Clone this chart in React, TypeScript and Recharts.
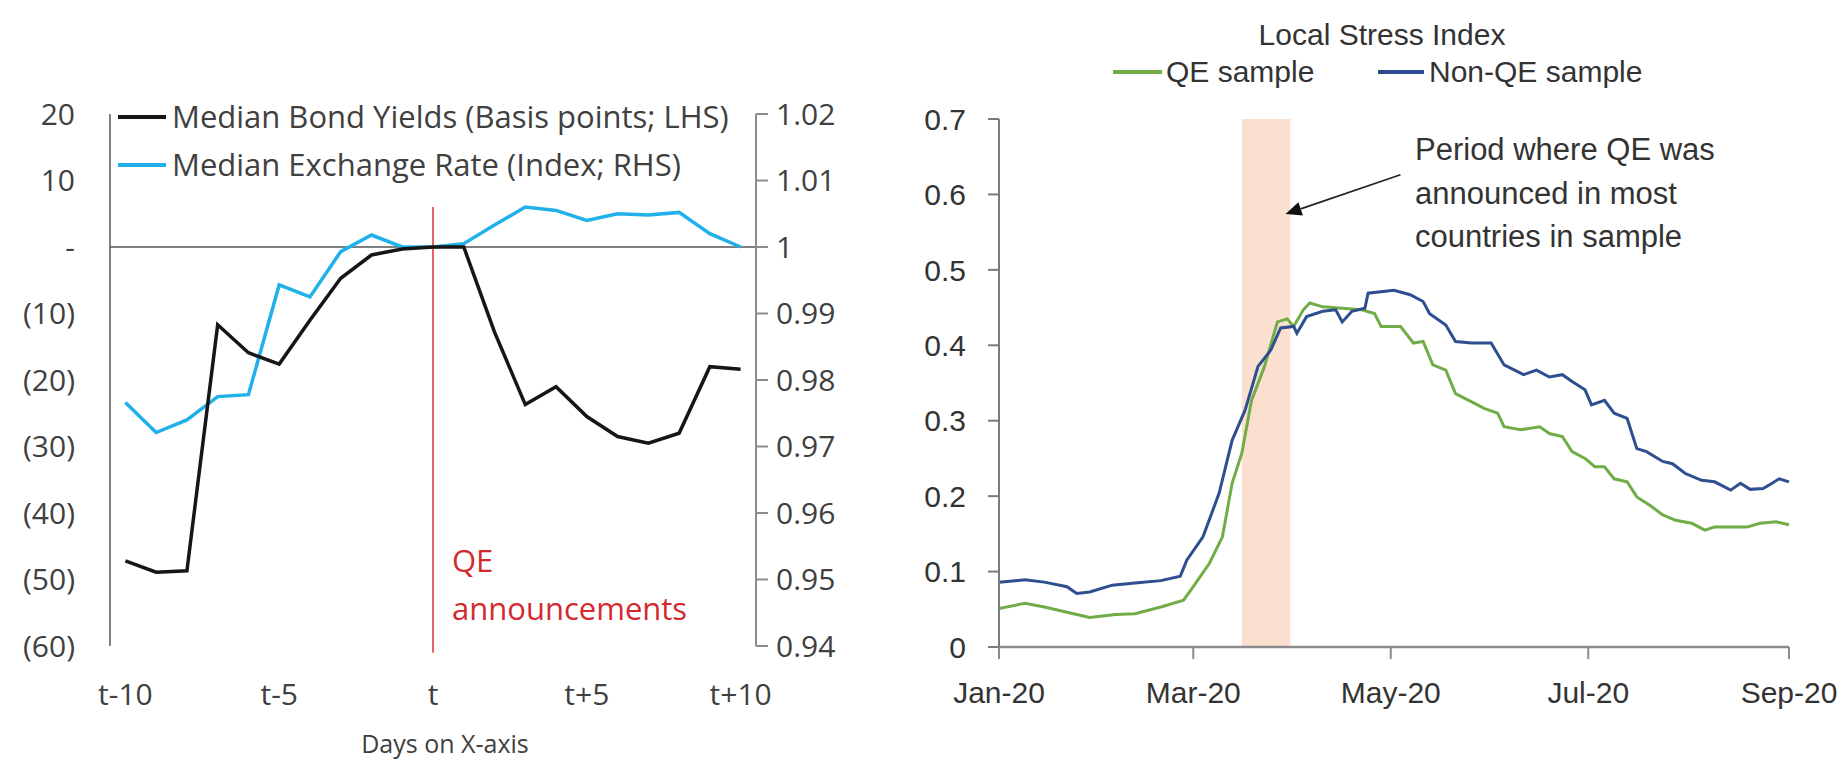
import React from "react";
import {
  LineChart,
  Line,
  XAxis,
  YAxis,
  ReferenceLine,
  ReferenceArea,
} from "recharts";

// ---- left panel: days around QE announcements ----
const eventDays = [-10, -9, -8, -7, -6, -5, -4, -3, -2, -1, 0, 1, 2, 3, 4, 5, 6, 7, 8, 9, 10];
const eventTicks = [-10, -5, 0, 5, 10];
const eventTickLabels = ["t-10", "t-5", "t", "t+5", "t+10"];
const bondYields = [
  -47.2, -48.9, -48.7, -11.7, -15.9, -17.6, -11.0, -4.7, -1.2, -0.3, 0,
  0, -12.8, -23.7, -21.0, -25.5, -28.5, -29.5, -28.0, -18.0, -18.4,
];
const exchangeRate = [
  0.9766, 0.9721, 0.974, 0.9775, 0.9778, 0.9943, 0.9925, 0.9993, 1.0018, 1.0, 1.0,
  1.0005, 1.0033, 1.006, 1.0055, 1.004, 1.005, 1.0048, 1.0052, 1.002, 1.0,
];
const yieldTicks = [-60, -50, -40, -30, -20, -10, 0, 10, 20];
const fxTicks = [0.94, 0.95, 0.96, 0.97, 0.98, 0.99, 1, 1.01, 1.02];

// ---- right panel: local stress index (days since 1 Jan 2020) ----
const stressTicks = [0, 0.1, 0.2, 0.3, 0.4, 0.5, 0.6, 0.7];
const monthTicks = [0, 60, 121, 182, 244];
const monthLabels = ["Jan-20", "Mar-20", "May-20", "Jul-20", "Sep-20"];
const qePeriod = [75, 90];

const qeDays = [
  0, 8, 14, 21, 28, 36, 42, 50, 57, 60, 65, 69, 72, 75, 78, 82, 86, 89, 91, 94,
  96, 100, 106, 112, 116, 118, 124, 128, 131, 134, 138, 141, 146, 150, 154, 156,
  161, 167, 170, 174, 177, 181, 184, 187, 190, 194, 197, 201, 205, 209, 214, 218,
  221, 227, 231, 235, 240, 244,
];
const qeSample = [
  0.051, 0.058, 0.053, 0.046, 0.039, 0.043, 0.044, 0.053, 0.062, 0.08, 0.111,
  0.146, 0.217, 0.257, 0.327, 0.372, 0.431, 0.435, 0.425, 0.447, 0.456, 0.451,
  0.449, 0.447, 0.442, 0.425, 0.425, 0.403, 0.405, 0.374, 0.367, 0.336, 0.325,
  0.316, 0.31, 0.292, 0.288, 0.292, 0.283, 0.279, 0.259, 0.25, 0.239, 0.239,
  0.223, 0.219, 0.199, 0.188, 0.175, 0.168, 0.164, 0.155, 0.159, 0.159, 0.159,
  0.164, 0.166, 0.162,
];
const nonQeDays = [
  0, 8, 14, 21, 24, 28, 35, 42, 50, 56, 58, 63, 68, 72, 76, 80, 84, 87, 91, 92,
  95, 100, 104, 106, 109, 113, 114, 122, 127, 131, 133, 138, 141, 146, 152, 156,
  162, 166, 170, 174, 177, 181, 183, 187, 190, 194, 197, 200, 205, 208, 212, 217,
  221, 226, 229, 232, 236, 238, 241, 244,
];
const nonQeSample = [
  0.086, 0.089, 0.086, 0.08, 0.071, 0.073, 0.082, 0.085, 0.088, 0.094, 0.115,
  0.146, 0.204, 0.274, 0.314, 0.372, 0.394, 0.423, 0.425, 0.416, 0.438, 0.445,
  0.447, 0.431, 0.445, 0.449, 0.469, 0.473, 0.467, 0.458, 0.442, 0.427, 0.405,
  0.403, 0.403, 0.374, 0.361, 0.367, 0.358, 0.361, 0.352, 0.341, 0.321, 0.327,
  0.31, 0.303, 0.263, 0.259, 0.246, 0.243, 0.23, 0.221, 0.219, 0.208, 0.217,
  0.209, 0.21, 0.215, 0.223, 0.219,
];

const leftFont = "'Open Sans', sans-serif";
const rightFont = "'Liberation Sans', Arial, sans-serif";

const eventData = eventDays.map((day, i) => ({
  day,
  yields: bondYields[i],
  fx: exchangeRate[i],
}));

// merge both stress series on a common day axis
const stressData = Array.from(new Set([...qeDays, ...nonQeDays]))
  .sort((a, b) => a - b)
  .map((day) => {
    const qi = qeDays.indexOf(day);
    const ni = nonQeDays.indexOf(day);
    return {
      day,
      qe: qi === -1 ? null : qeSample[qi],
      nonQe: ni === -1 ? null : nonQeSample[ni],
    };
  });

const formatYield = (v: number) => (v === 0 ? "-" : v < 0 ? `(${-v})` : `${v}`);

function ArrowShape(props: any) {
  const { x1, y1, x2, y2 } = props;
  const ang = Math.atan2(y2 - y1, x2 - x1);
  const len = 16;
  const half = 7;
  const bx = x2 - len * Math.cos(ang);
  const by = y2 - len * Math.sin(ang);
  const pts = [
    `${x2},${y2}`,
    `${bx + half * Math.sin(ang)},${by - half * Math.cos(ang)}`,
    `${bx - half * Math.sin(ang)},${by + half * Math.cos(ang)}`,
  ].join(" ");
  return (
    <g>
      <line x1={x1} y1={y1} x2={bx} y2={by} stroke="#222" strokeWidth={1.6} />
      <polygon points={pts} fill="#111" />
    </g>
  );
}

const abs = (left: number, top: number, extra: React.CSSProperties = {}): React.CSSProperties => ({
  position: "absolute",
  left,
  top,
  whiteSpace: "nowrap",
  ...extra,
});

export default function App() {
  const leftTick = { fontSize: 30, fill: "#404040", fontFamily: leftFont };
  const rightTick = { fontSize: 30, fill: "#333333", fontFamily: rightFont };

  return (
    <div style={{ position: "relative", width: 1844, height: 764, background: "#fff", overflow: "hidden" }}>
      <style>{"body{margin:0}"}</style>

      {/* left panel */}
      <div style={abs(0, 0)}>
        <LineChart
          width={900}
          height={764}
          data={eventData}
          margin={{ top: 114, right: 0, bottom: 58, left: 0 }}
          style={{ fontFamily: leftFont }}
        >
          <XAxis
            dataKey="day"
            type="number"
            domain={[-10.5, 10.5]}
            ticks={eventTicks}
            tickFormatter={(v: number) => eventTickLabels[eventTicks.indexOf(v)]}
            axisLine={false}
            tickLine={false}
            tickSize={0}
            tickMargin={38}
            height={60}
            tick={leftTick}
          />
          <YAxis
            yAxisId="left"
            domain={[-60, 20]}
            ticks={yieldTicks}
            tickFormatter={formatYield}
            width={110}
            tickLine={false}
            tickSize={0}
            tickMargin={35}
            axisLine={{ stroke: "#595959", strokeWidth: 1.5 }}
            tick={leftTick}
          />
          <YAxis
            yAxisId="right"
            orientation="right"
            domain={[0.94, 1.02]}
            ticks={fxTicks}
            tickFormatter={(v: number) => String(v)}
            width={144}
            tickSize={12}
            tickMargin={8}
            axisLine={{ stroke: "#8c8c8c", strokeWidth: 2 }}
            tickLine={{ stroke: "#8c8c8c", strokeWidth: 2 }}
            tick={leftTick}
          />
          <ReferenceLine yAxisId="left" y={0} stroke="#7f7f7f" strokeWidth={2} />
          <ReferenceLine
            yAxisId="left"
            segment={[{ x: 0, y: 6 }, { x: 0, y: -61 }]}
            stroke="#e0303a"
            strokeWidth={1.5}
            ifOverflow="visible"
          />
          <Line
            yAxisId="right"
            dataKey="fx"
            stroke="#21b1ea"
            strokeWidth={3.5}
            dot={false}
            type="linear"
            isAnimationActive={false}
          />
          <Line
            yAxisId="left"
            dataKey="yields"
            stroke="#161616"
            strokeWidth={3.5}
            dot={false}
            type="linear"
            isAnimationActive={false}
          />
        </LineChart>
      </div>

      {/* left legend and notes */}
      <div style={abs(118, 115, { width: 48, height: 4, background: "#161616" })} />
      <div style={abs(118, 163, { width: 48, height: 4, background: "#21b1ea" })} />
      <div style={abs(172, 95, { fontFamily: leftFont, fontSize: 31, lineHeight: "42px", color: "#404040" })}>
        Median Bond Yields (Basis points; LHS)
      </div>
      <div style={abs(172, 143, { fontFamily: leftFont, fontSize: 31, lineHeight: "42px", color: "#404040" })}>
        Median Exchange Rate (Index; RHS)
      </div>
      <div style={abs(452, 536, { fontFamily: leftFont, fontSize: 31, lineHeight: "48px", color: "#d42a2f" })}>
        QE
        <br />
        announcements
      </div>
      <div
        style={abs(295, 726, {
          width: 300,
          textAlign: "center",
          fontFamily: leftFont,
          fontSize: 25,
          lineHeight: "34px",
          color: "#404040",
        })}
      >
        Days on X-axis
      </div>

      {/* right panel */}
      <div style={abs(860, 0)}>
        <LineChart
          width={984}
          height={764}
          data={stressData}
          margin={{ top: 119, right: 55, bottom: 57, left: 0 }}
          style={{ fontFamily: rightFont }}
        >
          <XAxis
            dataKey="day"
            type="number"
            domain={[0, 244]}
            ticks={monthTicks}
            tickFormatter={(v: number) => monthLabels[monthTicks.indexOf(v)]}
            height={60}
            tickSize={12}
            tickMargin={23}
            axisLine={{ stroke: "#8c8c8c", strokeWidth: 2.5 }}
            tickLine={{ stroke: "#8c8c8c", strokeWidth: 2 }}
            tick={rightTick}
          />
          <YAxis
            domain={[0, 0.7]}
            ticks={stressTicks}
            width={139}
            tickSize={11}
            tickMargin={22}
            axisLine={{ stroke: "#7a7a7a", strokeWidth: 2 }}
            tickLine={{ stroke: "#7a7a7a", strokeWidth: 2 }}
            tick={rightTick}
          />
          <ReferenceArea
            x1={qePeriod[0]}
            x2={qePeriod[1]}
            y1={0}
            y2={0.7}
            fill="#fbe0d0"
            fillOpacity={1}
            stroke="none"
          />
          <Line
            dataKey="qe"
            stroke="#70ad47"
            strokeWidth={3}
            dot={false}
            connectNulls
            type="linear"
            isAnimationActive={false}
          />
          <Line
            dataKey="nonQe"
            stroke="#2e4f8f"
            strokeWidth={3}
            dot={false}
            connectNulls
            type="linear"
            isAnimationActive={false}
          />
          <ReferenceLine
            segment={[{ x: 124, y: 0.626 }, { x: 88.5, y: 0.574 }]}
            shape={ArrowShape}
            ifOverflow="visible"
          />
        </LineChart>
      </div>

      {/* right title, legend and annotation */}
      <div
        style={abs(1182, 14, {
          width: 400,
          textAlign: "center",
          fontFamily: rightFont,
          fontSize: 30,
          lineHeight: "42px",
          color: "#333",
        })}
      >
        Local Stress Index
      </div>
      <div style={abs(1113, 70, { width: 49, height: 4, background: "#70ad47" })} />
      <div style={abs(1166, 51, { fontFamily: rightFont, fontSize: 30, lineHeight: "42px", color: "#333" })}>
        QE sample
      </div>
      <div style={abs(1378, 70, { width: 46, height: 4, background: "#2e4f8f" })} />
      <div style={abs(1429, 51, { fontFamily: rightFont, fontSize: 30, lineHeight: "42px", color: "#333" })}>
        Non-QE sample
      </div>
      <div style={abs(1415, 128, { fontFamily: rightFont, fontSize: 31, lineHeight: "43.5px", color: "#333" })}>
        Period where QE was
        <br />
        announced in most
        <br />
        countries in sample
      </div>
    </div>
  );
}
